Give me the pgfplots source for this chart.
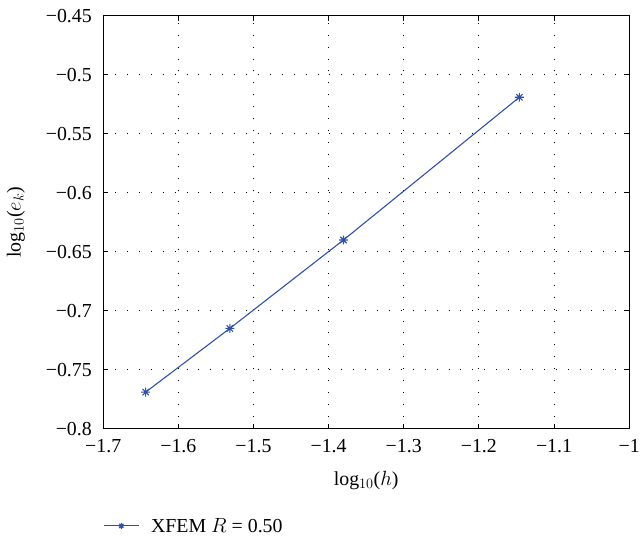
\documentclass[border=0pt]{standalone}
\usepackage{pgfplots}
\pgfplotsset{compat=1.18}
\usepackage{fontspec}
\setmainfont{Liberation Serif}
\definecolor{lineblue}{RGB}{48,80,168}
\pgfdeclareplotmark{mstar}{%
  \pgfpathmoveto{\pgfqpoint{-\pgfplotmarksize}{0pt}}\pgfpathlineto{\pgfqpoint{\pgfplotmarksize}{0pt}}%
  \pgfpathmoveto{\pgfqpoint{0pt}{-\pgfplotmarksize}}\pgfpathlineto{\pgfqpoint{0pt}{\pgfplotmarksize}}%
  \pgfpathmoveto{\pgfqpoint{-0.707\pgfplotmarksize}{-0.707\pgfplotmarksize}}\pgfpathlineto{\pgfqpoint{0.707\pgfplotmarksize}{0.707\pgfplotmarksize}}%
  \pgfpathmoveto{\pgfqpoint{-0.707\pgfplotmarksize}{0.707\pgfplotmarksize}}\pgfpathlineto{\pgfqpoint{0.707\pgfplotmarksize}{-0.707\pgfplotmarksize}}%
  \pgfusepathqstroke}
\begin{document}
\begin{tikzpicture}[font=\fontsize{20}{24}\selectfont]
\begin{axis}[
  name=ax,
  scale only axis,
  width=530pt, height=416pt,
  xmin=-1.7, xmax=-1, ymin=-0.8, ymax=-0.45,
  xtick={-1.7,-1.6,-1.5,-1.4,-1.3,-1.2,-1.1,-1},
  xticklabels={−1.7,−1.6,−1.5,−1.4,−1.3,−1.2,−1.1,−1},
  ytick={-0.8,-0.75,-0.7,-0.65,-0.6,-0.55,-0.5,-0.45},
  yticklabels={−0.8,−0.75,−0.7,−0.65,−0.6,−0.55,−0.5,−0.45},
  xticklabel style={yshift=-7pt},
  yticklabel style={xshift=-8pt},
  tick align=inside,
  major tick length=5pt,
  tick style={black, line width=0.8pt},
  axis line style={black, line width=0.9pt},
  grid=major,
  major grid style={black, line width=1pt, dash pattern=on 1pt off 11pt},
  xlabel={log$_{10}$($h$)},
  ylabel={log$_{10}$($e_k$)},
  every axis x label/.style={at={(axis description cs:0.5,0)}, anchor=center, yshift=-52pt},
  every axis y label/.style={at={(axis description cs:0,0.5)}, rotate=90, anchor=center, yshift=88pt},
  legend style={at={(axis description cs:0,-0.2356)}, anchor=west, draw=none, fill=none, inner xsep=0pt},
  legend cell align=left,
  legend image code/.code={\draw[mark repeat=2,mark phase=2,mark size=3pt] plot coordinates {(0pt,0pt)(17.5pt,0pt)(35pt,0pt)};},
]
\addplot[color=lineblue, line width=1.1pt, mark=mstar, mark size=4.5pt, mark options={line width=1.1pt}]
coordinates {(-1.6435,-0.769) (-1.5315,-0.715) (-1.3802,-0.640) (-1.1461,-0.519)};
\addlegendentry{\hspace{10pt}XFEM $R$ = 0.50}
\end{axis}
\path ([xshift=-104pt,yshift=-112pt]ax.south west) rectangle ([xshift=9pt,yshift=16pt]ax.north east);
\end{tikzpicture}
\end{document}
